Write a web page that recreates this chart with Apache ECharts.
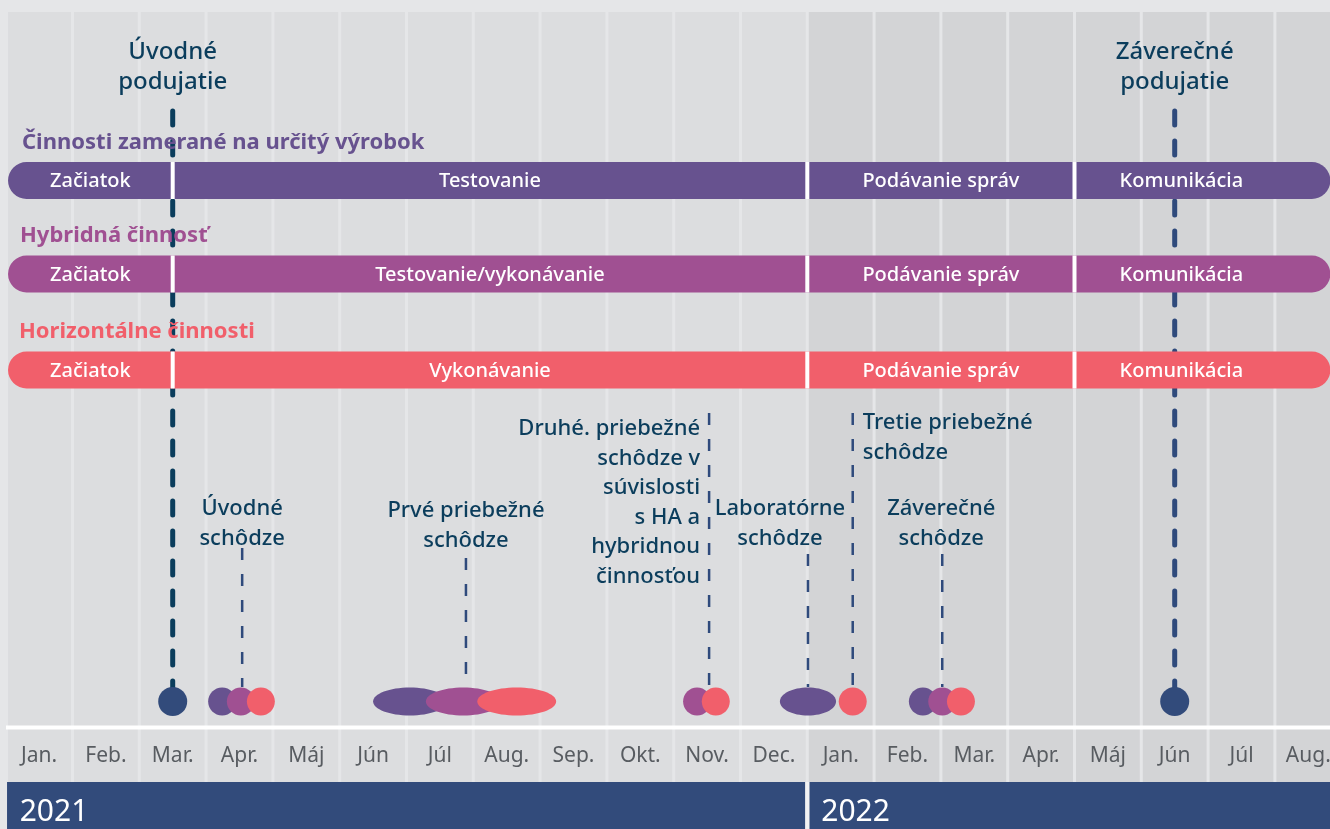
<!DOCTYPE html>
<html>
<head>
<meta charset="utf-8">
<script src="https://cdn.jsdelivr.net/npm/echarts@6/dist/echarts.min.js"></script>
<style>
    html, body {margin: 0; padding: 0; background: #e5e6e8;}
    #chart {width: 1330px; height: 829px;}
</style>
</head>
<body>
<div id="chart"></div>
<script>
var FONT = '"Noto Sans", "Open Sans", sans-serif';

// timeline months, Jan 2021 .. Aug 2022
var months = ['Jan.', 'Feb.', 'Mar.', 'Apr.', 'Máj', 'Jún', 'Júl', 'Aug.', 'Sep.', 'Okt.', 'Nov.', 'Dec.',
              'Jan.', 'Feb.', 'Mar.', 'Apr.', 'Máj', 'Jún', 'Júl', 'Aug.'];
var yearNames = ['2021', '2022'];
var yearStarts = [0, 12];

var trackNames = ['Činnosti zamerané na určitý výrobok', 'Hybridná činnosť', 'Horizontálne činnosti'];
var trackColors = ['#67528f', '#a05092', '#f15f6b'];

// phase boundaries (month index) shared by the three tracks
var phaseBounds = [0, 2.5, 12, 16, 19.83];
var productPhases = ['Začiatok', 'Testovanie', 'Podávanie správ', 'Komunikácia'];
var hybridPhases = ['Začiatok', 'Testovanie/vykonávanie', 'Podávanie správ', 'Komunikácia'];
var horizontalPhases = ['Začiatok', 'Vykonávanie', 'Podávanie správ', 'Komunikácia'];

// big events
var eventNames = ['Úvodné\npodujatie', 'Záverečné\npodujatie'];
var eventMonths = [2.5, 17.5];

// meetings
var meetingNames = ['Úvodné\nschôdze', 'Prvé priebežné\nschôdze',
    'Druhé. priebežné\nschôdze v\nsúvislosti\ns HA a\nhybridnou\nčinnosťou',
    'Laboratórne\nschôdze', 'Tretie priebežné\nschôdze', 'Záverečné\nschôdze'];
var meetingMonths = [3.54, 6.89, 10.53, 12.01, 12.68, 14.02];

// meeting dots per track: [centre month, length in months (0 = one day)]
var productDots = [[3.24, 0], [6.05, 1.1], [12.01, 0.84], [13.73, 0]];
var hybridDots = [[3.52, 0], [6.85, 1.12], [10.35, 0], [14.02, 0]];
var horizontalDots = [[3.82, 0], [7.65, 1.18], [10.63, 0], [12.68, 0], [14.30, 0]];

// ---- layout (pixels) ----
var LEFT_M = 0.035;          // left edge of the drawing, in months
var TOP = 12, AXIS_Y = 727, YEAR_Y = 782, H = 829;
var barY = [180.5, 274, 370], barH = 37;
var titleX = [22, 20, 19], titleY = [143, 236, 332];
var dotY = 701.5, dotR = 14;
var eventLineColors = ['#0b3d5c', '#2f4a7c'];
var meetingLayout = [
    {align: 'center', dx: 0, y: 509, top: 548},
    {align: 'center', dx: 0, y: 511, top: 558},
    {align: 'right', dx: -9, y: 429, top: 413},
    {align: 'center', dx: -28, y: 509, top: 554},
    {align: 'left', dx: 10, y: 423, top: 413},
    {align: 'center', dx: -1, y: 509, top: 554}
];

function xpx(api, m) {
    return api.coord([m, 0])[0];
}

function trackSeries(t, labels) {
    return {
        type: 'custom', z: 4,
        data: labels.map(function (name, i) { return [phaseBounds[i], phaseBounds[i + 1], i]; }),
        renderItem: function (params, api) {
            var i = api.value(2);
            var s = Math.max(api.value(0), LEFT_M), e = api.value(1);
            var x0 = xpx(api, s), x1 = xpx(api, e);
            var last = i === labels.length - 1;
            var r = barH / 2;
            var textEnd = last ? Math.min(e, s + 3.2) : e;
            var children = [
                {type: 'rect', shape: {x: x0, y: barY[t] - r, width: x1 - x0, height: barH,
                    r: [i === 0 ? r : 0, last ? r : 0, last ? r : 0, i === 0 ? r : 0]},
                    style: {fill: trackColors[t]}},
                {type: 'text', x: (x0 + xpx(api, textEnd)) / 2, y: barY[t] + 1,
                    style: {text: labels[i], fill: '#fff', font: '500 20px ' + FONT,
                        align: 'center', verticalAlign: 'middle'}}
            ];
            if (i > 0) {
                children.push({type: 'rect', shape: {x: x0 - 2, y: barY[t] - r, width: 4, height: barH},
                    style: {fill: '#fff'}});
            }
            return {type: 'group', children: children};
        }
    };
}

function dotSeries(dots, color) {
    return {
        type: 'custom', z: 5, data: dots,
        renderItem: function (params, api) {
            var c = api.value(0), len = api.value(1);
            var cx = xpx(api, c);
            var rx = len > 0 ? (xpx(api, c + len / 2) - xpx(api, c - len / 2)) / 2 : dotR;
            return {type: 'ellipse', shape: {cx: cx, cy: dotY, rx: rx, ry: dotR}, style: {fill: color}};
        }
    };
}

var myChart = echarts.init(document.getElementById('chart'));

var option = {
    backgroundColor: '#e5e6e8',
    animation: false,
    grid: {left: 0, right: 0, top: 0, bottom: 0},
    xAxis: {type: 'value', min: -5.7 / 66.8, max: (1330 - 5.7) / 66.8, show: false},
    yAxis: {type: 'value', min: 0, max: H, inverse: true, show: false},
    series: [
        // month columns
        {
            type: 'custom', z: 1,
            data: months.map(function (m, i) { return [i, 0]; }),
            renderItem: function (params, api) {
                var i = api.value(0);
                var x0 = i === 0 ? xpx(api, LEFT_M) : xpx(api, i) + 1.5;
                var x1 = xpx(api, i + 1) - 1.5;
                return {type: 'group', children: [
                    {type: 'rect', shape: {x: x0, y: TOP, width: x1 - x0, height: YEAR_Y - TOP},
                        style: {fill: i >= yearStarts[1] ? '#d3d4d6' : '#dcdddf'}},
                    {type: 'text', x: xpx(api, i + 0.5), y: 756,
                        style: {text: months[i], fill: '#585c61', font: '21px ' + FONT,
                            align: 'center', verticalAlign: 'middle'}}
                ]};
            }
        },
        // year band
        {
            type: 'custom', z: 1,
            data: yearNames.map(function (y, i) { return [yearStarts[i], i + 1 < yearStarts.length ? yearStarts[i + 1] : 19.83, i]; }),
            renderItem: function (params, api) {
                var i = api.value(2);
                var x0 = i === 0 ? xpx(api, LEFT_M) - 1 : xpx(api, api.value(0)) + 2;
                var x1 = i === 0 ? xpx(api, api.value(1)) - 2 : xpx(api, api.value(1));
                return {type: 'group', children: [
                    {type: 'rect', shape: {x: x0, y: YEAR_Y, width: x1 - x0, height: H - YEAR_Y},
                        style: {fill: '#324b7b'}},
                    {type: 'text', x: xpx(api, api.value(0)) + 14, y: 812,
                        style: {text: yearNames[i], fill: '#fff', font: '30px ' + FONT,
                            align: 'left', verticalAlign: 'middle'}}
                ]};
            }
        },
        // big events: dashed line, dot, title
        {
            type: 'custom', z: 3,
            data: eventMonths.map(function (m, i) { return [m, i]; }),
            renderItem: function (params, api) {
                var i = api.value(1);
                var x = xpx(api, api.value(0));
                return {type: 'group', children: [
                    {type: 'line', shape: {x1: x, y1: 111, x2: x, y2: dotY - 12},
                        style: {stroke: eventLineColors[i], lineWidth: 5, lineDash: [14, 16], lineCap: 'round'}},
                    {type: 'circle', shape: {cx: x, cy: dotY, r: dotR + 0.5}, style: {fill: '#324b7b'}, z2: 10},
                    {type: 'text', x: x, y: 37,
                        style: {text: eventNames[i], fill: '#0b3d5c', font: '500 24px ' + FONT,
                            lineHeight: 30, align: 'center', verticalAlign: 'top'}}
                ]};
            }
        },
        // meetings: thin dashed line + label
        {
            type: 'custom', z: 3,
            data: meetingMonths.map(function (m, i) { return [m, i]; }),
            renderItem: function (params, api) {
                var i = api.value(1);
                var L = meetingLayout[i];
                var x = xpx(api, api.value(0));
                return {type: 'group', children: [
                    {type: 'line', shape: {x1: x, y1: L.top, x2: x, y2: 687},
                        style: {stroke: '#2f4a7c', lineWidth: 2.5, lineDash: [12, 14]}},
                    {type: 'text', x: x + L.dx, y: L.y - 15,
                        style: {text: meetingNames[i], fill: '#0b3d5c', font: '500 22px ' + FONT,
                            lineHeight: 29.6, align: L.align, verticalAlign: 'top'}}
                ]};
            }
        },
        trackSeries(0, productPhases),
        trackSeries(1, hybridPhases),
        trackSeries(2, horizontalPhases),
        dotSeries(productDots, trackColors[0]),
        dotSeries(hybridDots, trackColors[1]),
        dotSeries(horizontalDots, trackColors[2])
    ],
    graphic: [
        {type: 'rect', z: 20, shape: {x: 6, y: AXIS_Y - 1.5, width: 1324, height: 4}, style: {fill: '#ffffff'}},
        {type: 'rect', z: 20, shape: {x: 805.3, y: YEAR_Y, width: 4, height: H - YEAR_Y}, style: {fill: '#f2f2f3'}}
    ].concat(trackNames.map(function (name, t) {
        return {type: 'text', z: 20, x: titleX[t], y: titleY[t],
            style: {text: name, fill: trackColors[t], font: 'bold 22px ' + FONT, verticalAlign: 'middle'}};
    }))
};

myChart.setOption(option);
</script>
</body>
</html>
